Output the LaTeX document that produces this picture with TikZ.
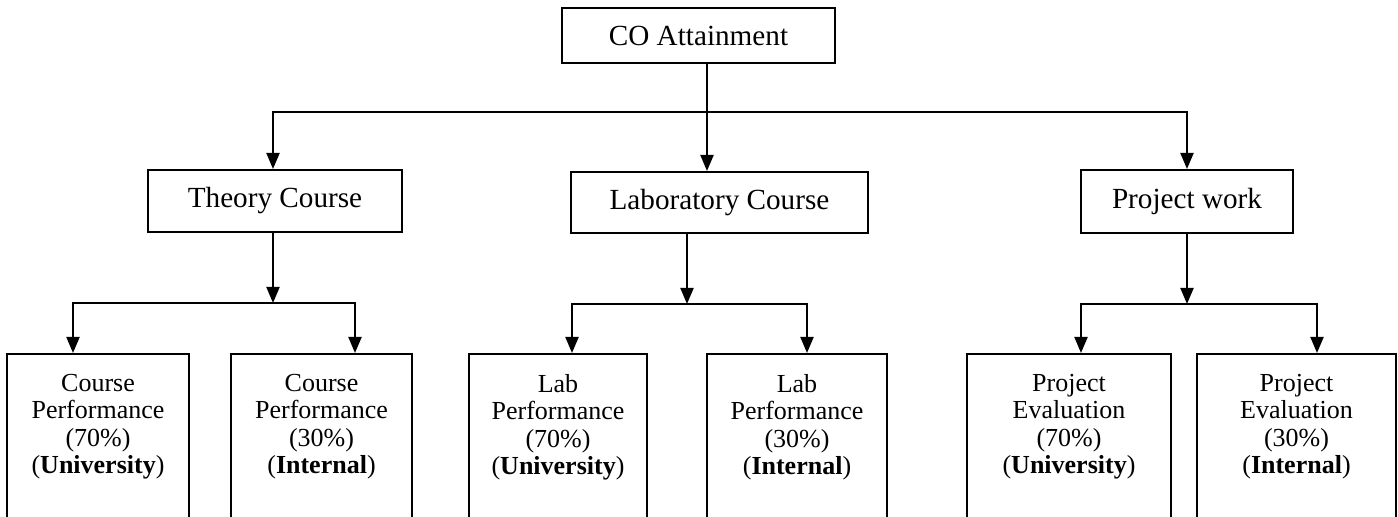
\documentclass[tikz,border=0pt]{standalone}
\usepackage{fontspec}
\setmainfont{Liberation Serif}
\usetikzlibrary{arrows.meta}

\begin{document}
\begin{tikzpicture}[x=0.5pt,y=-0.5pt,line width=1pt,
    >={Triangle[length=8pt,width=6.5pt]},
    head/.style={draw,inner sep=0pt,font=\fontsize{14.6}{17}\selectfont},
    leaf/.style={draw,anchor=north,align=center,inner xsep=0pt,inner ysep=10pt,
      text depth=120pt,font=\fontsize{13}{13.75}\selectfont}]
  \useasboundingbox (0,0) rectangle (1398,517);
  \clip (0,0) rectangle (1398,517);
  %
  \node[head,minimum width=136.5pt,minimum height=27.5pt] (co) at (698.5,35.5) {CO Attainment};
  \node[head,minimum width=127pt,minimum height=31pt] (theory) at (275,201) {Theory Course};
  \node[head,minimum width=148.5pt,minimum height=30.5pt] (lab) at (719.5,202.5) {Laboratory Course};
  \node[head,minimum width=106pt,minimum height=31.5pt] (project) at (1187,201.5) {Project work};
  %
  \node[leaf,minimum width=91pt] (cu) at (98,353) {Course\\Performance\\(70\%)\\(\textbf{University})};
  \node[leaf,minimum width=90.5pt] (ci) at (321.5,353) {Course\\Performance\\(30\%)\\(\textbf{Internal})};
  \node[leaf,minimum width=89pt] (lu) at (558,353) {Lab\\Performance\\(70\%)\\(\textbf{University})};
  \node[leaf,minimum width=90pt] (li) at (797,353) {Lab\\Performance\\(30\%)\\(\textbf{Internal})};
  \node[leaf,minimum width=102pt] (pu) at (1069,353) {Project\\Evaluation\\(70\%)\\(\textbf{University})};
  \node[leaf,minimum width=99.5pt] (pi) at (1296.5,353) {Project\\Evaluation\\(30\%)\\(\textbf{Internal})};
  %
  \coordinate (jl) at (707,112);
  \coordinate (jt) at (273,112);
  \coordinate (jp) at (1187,112);
  \draw[->] (co.south -| jl) -- (jl |- lab.north);
  \draw[<->] (jt |- theory.north) -- (jt) -- (jp) -- (jp |- project.north);
  %
  \coordinate (tm) at (273,303);
  \coordinate (tl) at (73,303);
  \coordinate (tr) at (355,303);
  \draw[->] (theory.south -| tm) -- (tm);
  \draw[<->] (tl |- cu.north) -- (tl) -- (tr) -- (tr |- ci.north);
  %
  \coordinate (lm) at (687,304);
  \coordinate (ll) at (572,304);
  \coordinate (lr) at (807,304);
  \draw[->] (lab.south -| lm) -- (lm);
  \draw[<->] (ll |- lu.north) -- (ll) -- (lr) -- (lr |- li.north);
  %
  \coordinate (pm) at (1187,304);
  \coordinate (pl) at (1081,304);
  \coordinate (pr) at (1317,304);
  \draw[->] (project.south -| pm) -- (pm);
  \draw[<->] (pl |- pu.north) -- (pl) -- (pr) -- (pr |- pi.north);
\end{tikzpicture}
\end{document}
